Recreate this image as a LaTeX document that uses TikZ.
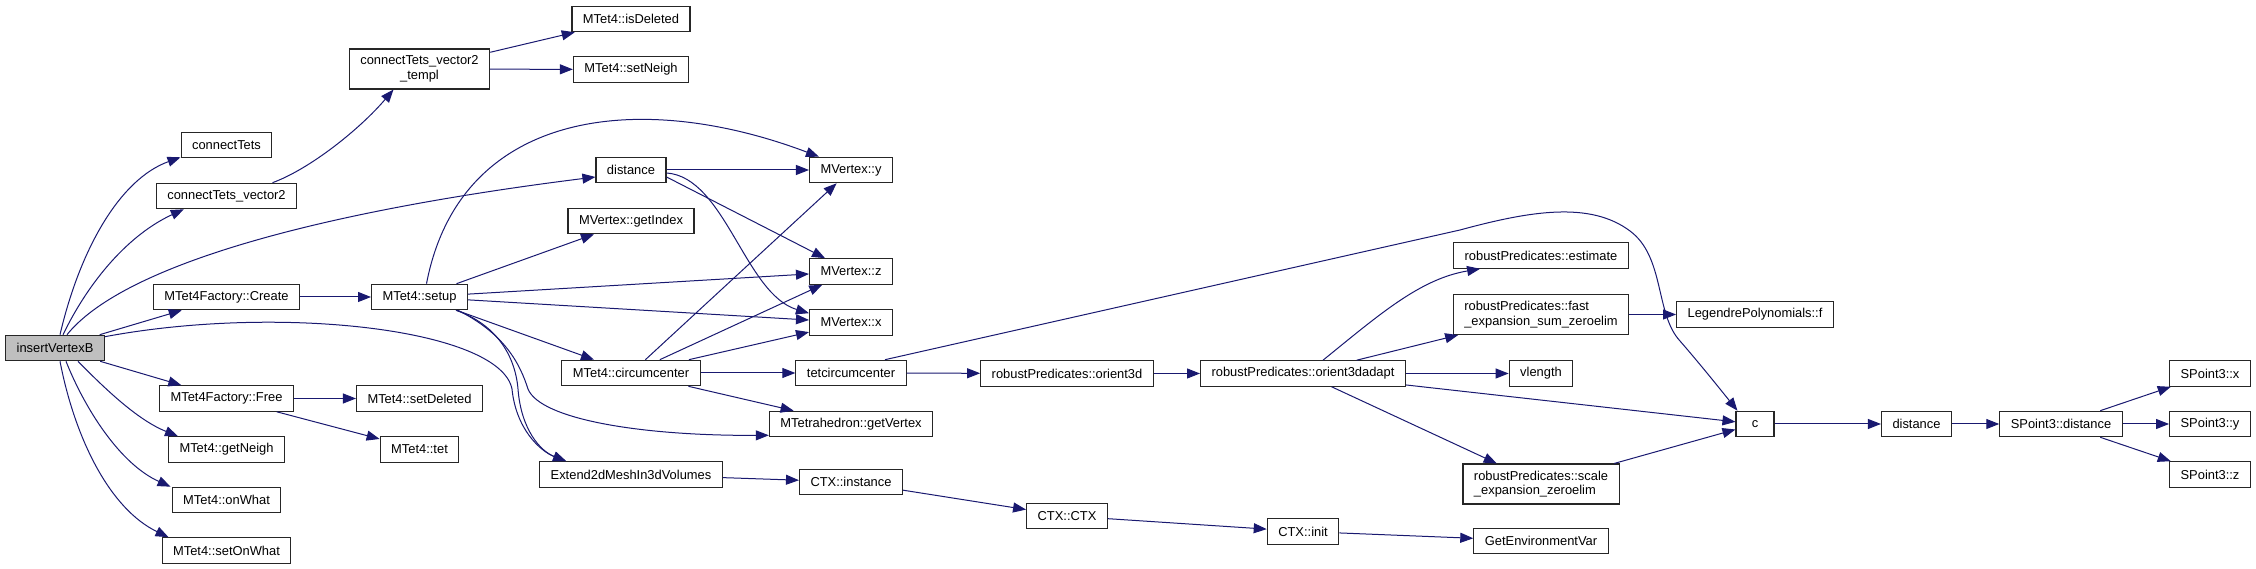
\documentclass[tikz,border=0pt]{standalone}
\usepackage{fontspec}
\setmainfont{Liberation Sans}
\usetikzlibrary{arrows.meta}
\definecolor{edgeblue}{HTML}{191970}
\tikzset{callto/.style={-{Triangle[length=13pt,width=10pt]}, draw=edgeblue, line width=1pt},
  fn/.style={draw=black!85, line width=1.1pt, fill=white, inner xsep=11pt, inner ysep=2pt, minimum height=25.5pt, minimum width=38pt},
  fnroot/.style={fn, fill=black!25},
  fntwo/.style={fn, minimum height=40pt}}

\begin{document}
\begin{tikzpicture}[x=1pt, y=1pt, font=\fontsize{12.9pt}{14.5pt}\selectfont]
  \useasboundingbox (0,0) rectangle (2256,569);
  % functions, column by column
  \node[fnroot] (ivb) at (55,221) {insertVertexB};
  \foreach \n/\y/\t in {ct/424/connectTets, ctv/373/connectTets\_vector2, mcreate/272/MTet4Factory::Create,
      mfree/170.5/MTet4Factory::Free, getneigh/119.5/MTet4::getNeigh, onwhat/69/MTet4::onWhat, setonwhat/18.5/MTet4::setOnWhat}
    \node[fn] (\n) at (226.5,\y) {\t};
  \node[fntwo, align=center] (templ) at (419.5,500) {connectTets\_vector2\\\_templ};
  \foreach \n/\y/\t in {setup/272/MTet4::setup, setdel/170.5/MTet4::setDeleted, tet/119.5/MTet4::tet}
    \node[fn] (\n) at (419.5,\y) {\t};
  \foreach \n/\y/\t in {isdel/550/MTet4::isDeleted, setneigh/499.5/MTet4::setNeigh, dist/399/distance,
      getidx/348/MVertex::getIndex, circ/196/MTet4::circumcenter, extend/94.5/Extend2dMeshIn3dVolumes}
    \node[fn] (\n) at (631,\y) {\t};
  \foreach \n/\y/\t in {vy/399/MVertex::y, vz/297.5/MVertex::z, vx/246.5/MVertex::x, tetc/196/tetcircumcenter,
      getvtx/145/MTetrahedron::getVertex, inst/87/CTX::instance}
    \node[fn] (\n) at (851,\y) {\t};
  \node[fn] (o3d) at (1067,195.5) {robustPredicates::orient3d};
  \node[fn] (ctxctx) at (1067,53) {CTX::CTX};
  \node[fn] (o3da) at (1303,195.5) {robustPredicates::orient3dadapt};
  \node[fn] (ctxinit) at (1303,37.5) {CTX::init};
  \foreach \n/\y/\t in {est/313.5/robustPredicates::estimate, vlen/195.5/vlength, getenv/28/GetEnvironmentVar}
    \node[fn] (\n) at (1541,\y) {\t};
  \node[fntwo, align=left] (fast) at (1541,254.5) {robustPredicates::fast\\\_expansion\_sum\_zeroelim};
  \node[fntwo, align=left] (scale) at (1541,85) {robustPredicates::scale\\\_expansion\_zeroelim};
  \node[fn] (leg) at (1755,254.5) {LegendrePolynomials::f};
  \node[fn] (cc) at (1755,145) {c};
  \node[fn] (dist2) at (1916.5,145) {distance};
  \node[fn] (spd) at (2061,145) {SPoint3::distance};
  \foreach \n/\y/\t in {spx/195.5/SPoint3::x, spy/145/SPoint3::y, spz/94.5/SPoint3::z}
    \node[fn] (\n) at (2210,\y) {\t};

  % calls of insertVertexB
  \draw[callto] ([xshift=5pt]ivb.north) .. controls (80,320) and (120,390) .. ([yshift=1pt]ct.south west);
  \draw[callto] ([xshift=8pt]ivb.north) .. controls (90,290) and (130,335) .. ([xshift=28pt]ctv.south west);
  \draw[callto] ([xshift=12pt]ivb.north) .. controls (120,300) and (300,355) .. ([yshift=-7pt]dist.west);
  \draw[callto] (ivb) -- (mcreate);
  \draw[callto] ([yshift=-2pt]ivb.north east) .. controls (280,265) and (500,240) .. (512,180)
    .. controls (516,140) and (540,118) .. ([xshift=27pt]extend.north west);
  \draw[callto] (ivb) -- (mfree);
  \draw[callto] ([xshift=23pt]ivb.south) .. controls (110,175) and (140,148) .. ([xshift=10pt]getneigh.north west);
  \draw[callto] ([xshift=11pt]ivb.south) .. controls (85,160) and (120,105) .. ([xshift=-1pt]onwhat.north west);
  \draw[callto] ([xshift=5pt]ivb.south) .. controls (75,130) and (110,60) .. ([xshift=7pt]setonwhat.north west);
  % second column
  \draw[callto] ([xshift=46pt]ctv.north) .. controls (310,400) and (360,440) .. ([xshift=-26pt]templ.south);
  \draw[callto] (templ) -- (isdel);
  \draw[callto] (templ) -- (setneigh);
  \draw[callto] (mcreate) -- (setup);
  \draw[callto] (mfree) -- (setdel);
  \draw[callto] (mfree) -- (tet);
  % MTet4::setup
  \draw[callto] ([xshift=7pt]setup.north) .. controls (460,460) and (640,480) .. ([xshift=10pt]vy.north west);
  \draw[callto] (setup) -- (getidx);
  \draw[callto] (setup) -- (vz);
  \draw[callto] (setup) -- (vx);
  \draw[callto] (setup) -- (circ);
  \draw[callto] ([xshift=-10pt]setup.south east) .. controls (505,235) and (520,205) .. (528,180)
    .. controls (540,150) and (640,133) .. ([yshift=2pt]getvtx.south west);
  \draw[callto] ([xshift=-12pt]setup.south east) .. controls (495,245) and (515,215) .. (518,180)
    .. controls (521,140) and (540,118) .. ([xshift=27pt]extend.north west);
  % distance and circumcenter
  \draw[callto] (dist) -- (vy);
  \draw[callto] ([yshift=-7pt]dist.east) -- (vz);
  \draw[callto] ([yshift=-3pt]dist.east) .. controls (725,392) and (745,275) .. ([yshift=-4pt]vx.north west);
  \draw[callto] (circ) -- (vy);
  \draw[callto] (circ) -- (vz);
  \draw[callto] (circ) -- (vx);
  \draw[callto] (circ) -- (tetc);
  \draw[callto] (circ) -- (getvtx);
  % predicates
  \draw[callto] (tetc) -- (o3d);
  \draw[callto] ([xshift=34pt]tetc.north) -- (1460,339) .. controls (1530,358) and (1590,368) .. (1630,338)
    .. controls (1665,312) and (1655,255) .. (1680,228) .. controls (1700,205) and (1720,180) .. ([xshift=2pt]cc.north west);
  \draw[callto] (o3d) -- (o3da);
  \draw[callto] ([xshift=20pt]o3da.north) .. controls (1380,255) and (1420,290) .. ([xshift=27pt]est.south west);
  \draw[callto] (o3da) -- (fast);
  \draw[callto] (o3da) -- (vlen);
  \draw[callto] (o3da) -- (cc);
  \draw[callto] (o3da) -- (scale);
  \draw[callto] (fast) -- (leg);
  \draw[callto] (scale) -- (cc);
  \draw[callto] (cc) -- (dist2);
  \draw[callto] (dist2) -- (spd);
  \draw[callto] (spd) -- (spx);
  \draw[callto] (spd) -- (spy);
  \draw[callto] (spd) -- (spz);
  % context
  \draw[callto] (extend) -- (inst);
  \draw[callto] (inst) -- (ctxctx);
  \draw[callto] (ctxctx) -- (ctxinit);
  \draw[callto] (ctxinit) -- (getenv);
\end{tikzpicture}
\end{document}
